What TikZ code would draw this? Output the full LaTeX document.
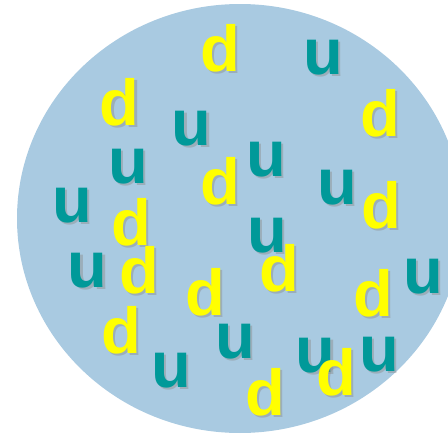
\documentclass[tikz,border=0pt]{standalone}
\usepackage{fontspec}
\newfontfamily\quarkfont{Liberation Sans}
\definecolor{bgblue}{RGB}{169,202,225}
\definecolor{dyellow}{RGB}{255,255,0}
\definecolor{uteal}{RGB}{0,153,153}
\tikzset{
  quark/.style={anchor=base, inner sep=0pt, font=\quarkfont\bfseries\fontsize{65}{65}\selectfont},
  dquark/.style={quark, text=dyellow},
  uquark/.style={quark, text=uteal},
  qshadow/.style={quark, text=black!45, opacity=0.45}
}
\begin{document}
\begin{tikzpicture}[x=1pt,y=-1pt]
    % Рамка
    \useasboundingbox (0,0) rectangle (448,434);
    \clip (0,0) rectangle (448,434);

    % Фон
    \fill[bgblue] (240,218.5) ellipse [x radius=223, y radius=214.5];

    % Кварки u
    \foreach \x/\y [count=\i] in {323/74,191.5/145,128/183,266/176,337/204,72/222,
        267/252,87.5/287,423/293,235/358,171/387,315.5/372,379/371}{
      \node[qshadow] at (\x+2.5,\y+2.5) {u};
      \node[uquark] (u\i) at (\x,\y) {u};
    }

    % Кварки d
    \foreach \x/\y [count=\i] in {220/71,119.5/125,380/136,220/204,131/245,381/228,
        139/293,279/291,205/315,373/316,121/353,265/415,336/395}{
      \node[qshadow] at (\x+2.5,\y+2.5) {d};
      \node[dquark] (d\i) at (\x,\y) {d};
    }
\end{tikzpicture}
\end{document}
